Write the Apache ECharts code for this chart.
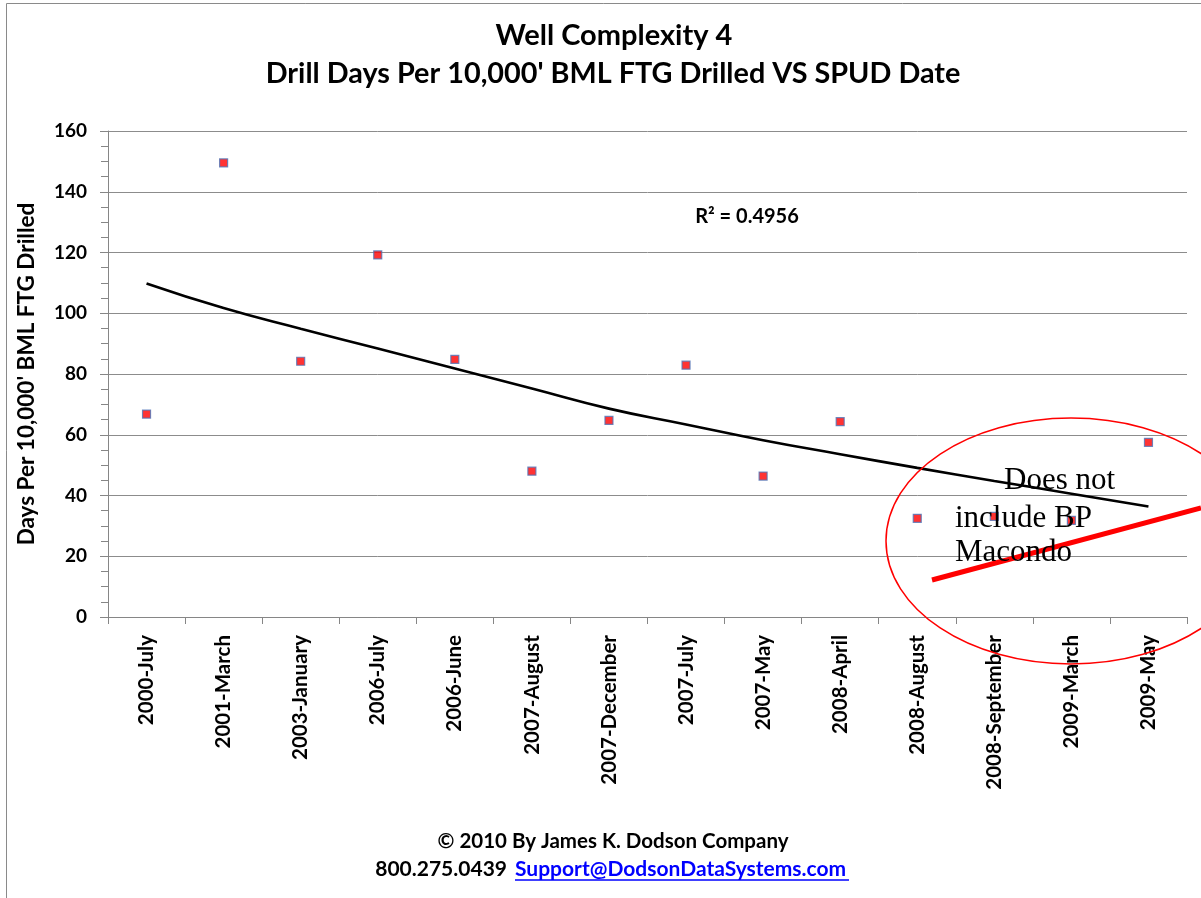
<!DOCTYPE html>
<html>
<head>
<meta charset="utf-8">
<script src="https://cdn.jsdelivr.net/npm/echarts@6/dist/echarts.min.js"></script>
<style>
  html, body { margin: 0; padding: 0; background: #fff; }
  #chart { width: 1201px; height: 898px; }
</style>
</head>
<body>
<div id="chart"></div>
<script>
var categories = ['2000-July', '2001-March', '2003-January', '2006-July', '2006-June',
    '2007-August', '2007-December', '2007-July', '2007-May', '2008-April',
    '2008-August', '2008-September', '2009-March', '2009-May'];
var drillDays = [66.8, 149.5, 84.2, 119.2, 84.8, 48.0, 64.7, 82.9, 46.4, 64.3, 32.5, 33.1, 31.8, 57.5];
var trendValues = [109.8, 101.7, 94.9, 88.4, 81.8, 75.2, 68.6, 63.4, 58.2, 53.6, 49.1, 44.8, 40.6, 36.4];
var yTicks = [0, 20, 40, 60, 80, 100, 120, 140, 160];

var font = 'Lato';
var serif = 'Liberation Serif';
var chart = echarts.init(document.getElementById('chart'));

function note(text, x, baseline) {
    // text top = baseline - ascent (approx 0.76em for this face)
    return { type: 'text', x: x, y: baseline - 31 * 0.76, z: 11,
        style: { text: text, fontFamily: serif, fontSize: 31, fill: '#000', align: 'left', verticalAlign: 'top' } };
}

var option = {
    backgroundColor: '#fff',
    animation: false,
    grid: { left: 108, right: 14, top: 131, bottom: 281, containLabel: false },
    xAxis: {
        type: 'category',
        data: categories,
        boundaryGap: true,
        axisLine: { lineStyle: { color: '#868686', width: 1 } },
        axisTick: { show: true, length: 7, lineStyle: { color: '#868686' } },
        axisLabel: {
            rotate: 90, margin: 18, interval: 0,
            fontFamily: font, fontWeight: 'bold', fontSize: 20.5, color: '#000'
        },
        splitLine: { show: false }
    },
    yAxis: {
        type: 'value',
        min: yTicks[0],
        max: yTicks[yTicks.length - 1],
        interval: 20,
        name: "Days Per 10,000' BML FTG Drilled",
        nameLocation: 'middle',
        nameGap: 70,
        nameRotate: 90,
        nameTextStyle: { fontFamily: font, fontWeight: 'bold', fontSize: 22.5, color: '#000' },
        axisLine: { show: true, lineStyle: { color: '#868686', width: 1 } },
        axisTick: { show: true, length: 8, lineStyle: { color: '#868686' } },
        minorTick: { show: true, splitNumber: 4, length: 7, lineStyle: { color: '#868686' } },
        axisLabel: { margin: 21, fontFamily: font, fontWeight: 'bold', fontSize: 19, color: '#000' },
        splitLine: { show: true, lineStyle: { color: '#8c8c8c', width: 1 } }
    },
    series: [
        {
            name: 'Trend',
            type: 'line',
            data: trendValues,
            symbol: 'none',
            smooth: true,
            lineStyle: { color: '#000', width: 2.6 },
            z: 2
        },
        {
            name: 'Drill Days',
            type: 'scatter',
            data: drillDays,
            symbol: 'rect',
            symbolSize: 8,
            itemStyle: { color: '#ff0000', borderColor: '#4f74b8', borderWidth: 1.2 },
            z: 3
        }
    ],
    graphic: [
        // outer border of the chart area
        { type: 'polyline', shape: { points: [[6.5, 898], [6.5, 3.5], [1201, 3.5]] },
          style: { stroke: '#8a8a8a', lineWidth: 1, fill: null } },
        { type: 'text', x: 614, y: 36,
          style: { text: 'Well Complexity 4', fontFamily: font, fontWeight: 'bold', fontSize: 29,
                   fill: '#000', align: 'center', verticalAlign: 'middle' } },
        { type: 'text', x: 613, y: 74,
          style: { text: "Drill Days Per 10,000' BML FTG Drilled VS SPUD Date", fontFamily: font,
                   fontWeight: 'bold', fontSize: 28.8, fill: '#000', align: 'center', verticalAlign: 'middle' } },
        { type: 'text', x: 747, y: 217,
          style: { text: 'R² = 0.4956', fontFamily: font, fontWeight: 'bold', fontSize: 20,
                   fill: '#000', align: 'center', verticalAlign: 'middle' } },
        // annotation
        { type: 'ellipse', shape: { cx: 1071, cy: 541, rx: 185, ry: 123 },
          style: { stroke: '#ff0000', lineWidth: 1.5, fill: null }, z: 10 },
        { type: 'line', shape: { x1: 932, y1: 580, x2: 1201, y2: 508 },
          style: { stroke: '#ff0000', lineWidth: 5 }, z: 10 },
        note('Does not', 1004, 489),
        note('include BP', 955, 527),
        note('Macondo', 955, 561),
        // footer
        { type: 'text', x: 613, y: 841,
          style: { text: '© 2010 By James K. Dodson Company', fontFamily: font, fontWeight: 'bold',
                   fontSize: 20.5, fill: '#000', align: 'center', verticalAlign: 'middle' } },
        { type: 'text', x: 507, y: 869,
          style: { text: '800.275.0439', fontFamily: font, fontWeight: 'bold',
                   fontSize: 21, fill: '#000', align: 'right', verticalAlign: 'middle' } },
        { type: 'text', x: 515, y: 869,
          style: { text: 'Support@DodsonDataSystems.com', fontFamily: font, fontWeight: 'bold',
                   fontSize: 21, fill: '#0000ff', align: 'left', verticalAlign: 'middle' } },
        { type: 'line', shape: { x1: 515, y1: 880, x2: 849, y2: 880 },
          style: { stroke: '#0000ff', lineWidth: 1.5 } }
    ]
};

chart.setOption(option);
</script>
</body>
</html>
